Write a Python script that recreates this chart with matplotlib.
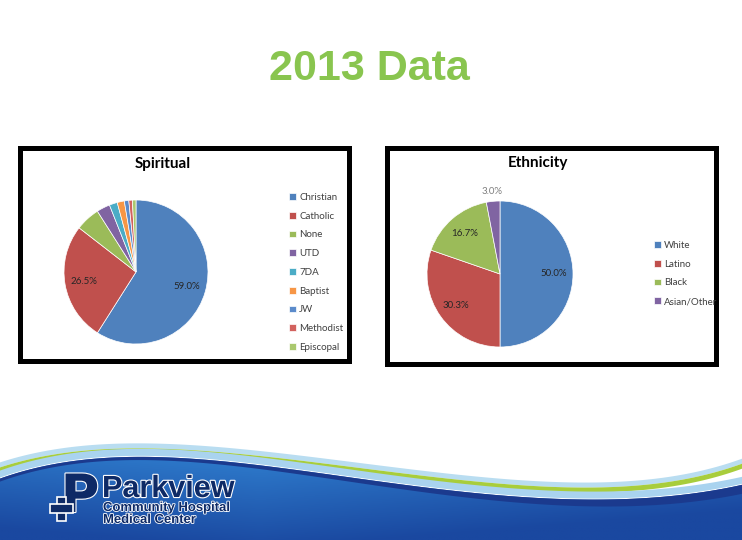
import numpy as np
import matplotlib.pyplot as plt
from matplotlib.patches import Rectangle, Polygon
import matplotlib.patheffects as pe

# data
spiritual_labels = ['Christian', 'Catholic', 'None', 'UTD', '7DA', 'Baptist', 'JW', 'Methodist', 'Episcopal']
spiritual_values = [59.0, 26.5, 5.5, 3.0, 1.8, 1.6, 1.0, 0.8, 0.8]
spiritual_colors = ['#4F81BD', '#C0504D', '#9BBB59', '#8064A2', '#4BACC6', '#F79646',
                    '#5B8BCB', '#D2625E', '#AAC86E']

ethnicity_labels = ['White', 'Latino', 'Black', 'Asian/Other']
ethnicity_values = [50.0, 30.3, 16.7, 3.0]
ethnicity_colors = ['#4F81BD', '#C0504D', '#9BBB59', '#8064A2']

W, H = 742, 540
fig = plt.figure(figsize=(W / 100, H / 100), dpi=100)
fig.patch.set_facecolor('white')

# background layer in pixel coordinates
bg = fig.add_axes([0, 0, 1, 1])
bg.set_xlim(0, W)
bg.set_ylim(H, 0)
bg.axis('off')

bg.text(369, 69, '2013 Data', ha='center', va='center', fontsize=31,
        fontweight='bold', color='#89C54F', family='Liberation Sans')

# chart boxes
bg.add_patch(Rectangle((19.5, 147.5), 329, 213, fill=False, lw=3.6, ec='black'))
bg.add_patch(Rectangle((386.5, 147.5), 329, 216, fill=False, lw=3.6, ec='black'))
bg.text(163, 164, 'Spiritual', ha='center', va='center', fontsize=11,
        fontweight='bold', family='Lato')
bg.text(538, 163, 'Ethnicity', ha='center', va='center', fontsize=11,
        fontweight='bold', family='Lato')

# footer wave decoration
xs = np.linspace(0, W, 400)
ctrl_x = np.array([0, 60, 150, 300, 450, 560, 650, 742]) / W


def smooth(ctrl_y):
    coef = np.polyfit(ctrl_x, ctrl_y, 5)
    return np.polyval(coef, xs / W)


blue_top = smooth([479, 462, 458, 470, 490, 500, 497, 485])
green = smooth([471, 455, 453, 463, 481, 492, 486, 467])

bg.fill_between(xs, green - 8, green - 3, color='#B9DDF1', lw=0)
bg.fill_between(xs, green - 3, green + 2, color='#A8CD3C', lw=0)
bg.fill_between(xs, blue_top - 8, blue_top - 1, color='#A9D3EF', lw=0)

gx = np.linspace(0, 1, 200)
gy = np.linspace(0, 1, 100)
GX, GY = np.meshgrid(gx, gy)
mix = np.clip(1 - 0.9 * GY - 0.6 * np.abs(GX - 0.35), 0, 1)[..., None]
light = np.array([0x30, 0x80, 0xD0]) / 255
dark = np.array([0x1A, 0x48, 0xA0]) / 255
grad = dark + (light - dark) * mix
poly = Polygon(np.column_stack([np.r_[xs, W, 0], np.r_[blue_top, H, H]]),
               closed=True, fc='none', ec='none')
bg.add_patch(poly)
im = bg.imshow(grad, extent=[0, W, H, 450], aspect='auto', zorder=1)
im.set_clip_path(poly)
edge = 3 + 6 * (xs / W) ** 2
bg.fill_between(xs, blue_top, blue_top + edge, color='#1B3A8E', lw=0, zorder=2)

# logo
navy = '#0E2A66'
stroke = [pe.withStroke(linewidth=1.6, foreground='white')]
bg.text(80, 497, 'P', ha='center', va='center', fontsize=38, fontweight='bold',
        color=navy, family='DejaVu Sans', path_effects=stroke, zorder=3)
for rx, ry, rw, rh in [(57, 497, 9, 24), (50, 504, 23, 9)]:
    bg.add_patch(Rectangle((rx, ry), rw, rh, fc=navy, ec='white', lw=1.2, zorder=4))
bg.add_patch(Rectangle((57.6, 504.6), 7.8, 7.8, fc=navy, ec='none', zorder=5))
bg.text(102, 497, 'Parkview', ha='left', va='baseline', fontsize=22, fontweight='bold',
        color=navy, family='Liberation Sans', path_effects=stroke, zorder=3)
bg.text(103, 502, 'Community Hospital\nMedical Center', ha='left', va='top',
        fontsize=9.4, linespacing=1.0, fontweight='bold', color=navy,
        family='Liberation Sans',
        path_effects=[pe.withStroke(linewidth=1.2, foreground='white')], zorder=3)


def pie_axes(cx, cy, r):
    return fig.add_axes([(cx - r) / W, (H - cy - r) / H, 2 * r / W, 2 * r / H])


def add_legend(ax, wedges, labels, x0, y0):
    ax.legend(wedges, labels, loc='upper left', bbox_to_anchor=(x0 / W, 1 - y0 / H),
              bbox_transform=fig.transFigure, frameon=False,
              prop={'family': 'Lato', 'size': 7}, labelcolor='#404040',
              handlelength=0.7, handleheight=0.7, handletextpad=0.35,
              labelspacing=1.0, borderpad=0, borderaxespad=0)


# Spiritual pie
ax1 = pie_axes(136, 272, 72)
w1, t1, a1 = ax1.pie(spiritual_values, colors=spiritual_colors, startangle=90,
                     counterclock=False, radius=1, pctdistance=0.74,
                     autopct=lambda p: f'{p:.1f}%' if p > 10 else '',
                     wedgeprops={'linewidth': 0.5, 'edgecolor': 'white'},
                     textprops={'fontsize': 7, 'family': 'Lato', 'color': '#262626'})
ax1.set_xlim(-1, 1)
ax1.set_ylim(-1, 1)
add_legend(ax1, w1, spiritual_labels, 289, 193)

# Ethnicity pie
ax2 = pie_axes(500, 274, 73)
w2, t2, a2 = ax2.pie(ethnicity_values, colors=ethnicity_colors, startangle=90,
                     counterclock=False, radius=1, pctdistance=0.74,
                     autopct='%1.1f%%',
                     wedgeprops={'linewidth': 0.5, 'edgecolor': 'white'},
                     textprops={'fontsize': 7, 'family': 'Lato', 'color': '#262626'})
# small slice label sits outside the pie
mid = np.deg2rad((w2[3].theta1 + w2[3].theta2) / 2)
a2[3].set_position((1.13 * np.cos(mid), 1.13 * np.sin(mid)))
a2[3].set_color('#7F7F7F')
ax2.set_xlim(-1, 1)
ax2.set_ylim(-1, 1)
add_legend(ax2, w2, ethnicity_labels, 654, 241)

fig.savefig('out.png', dpi=100)
